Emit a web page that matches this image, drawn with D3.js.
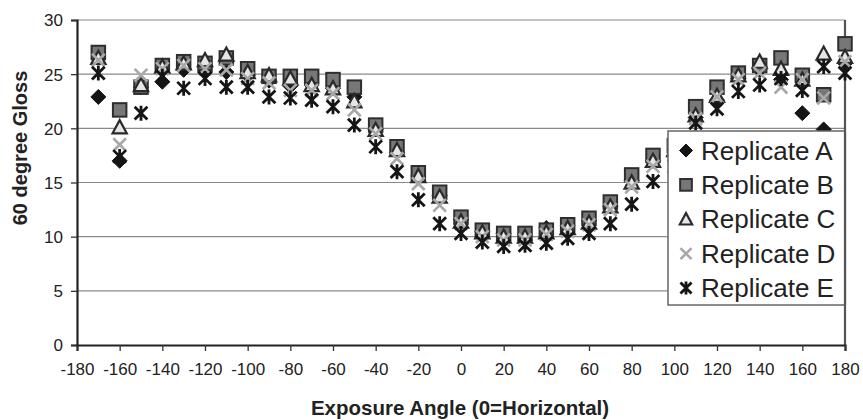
<!DOCTYPE html>
<html>
<head>
<meta charset="utf-8">
<script src="https://cdn.jsdelivr.net/npm/d3@7"></script>
<style>
  html, body { margin: 0; padding: 0; background: #fff; }
  svg { display: block; font-family: "Liberation Sans", Arial, sans-serif; }
</style>
</head>
<body>
<svg id="chart" width="863" height="420"></svg>
<script>
// Exposure angles (degrees) at which gloss was measured
const angles = [-170, -160, -150, -140, -130, -120, -110, -100, -90, -80, -70, -60,
                -50, -40, -30, -20, -10, 0, 10, 20, 30, 40, 50, 60,
                70, 80, 90, 100, 110, 120, 130, 140, 150, 160, 170, 180];

// 60 degree gloss readings, one array per replicate
const replicateA = [22.9, 17.0, 23.8, 24.3, 25.4, 25.2, 25.2, 24.9, 24.4, 23.9, 24.0, 23.7,
                    22.9, 19.9, 17.8, 15.6, 13.8, 11.6, 10.5, 10.3, 10.2, 10.8, 11.0, 11.5,
                    12.8, 15.2, 17.0, 17.5, 21.0, 22.6, 24.6, 25.4, 24.5, 21.4, 19.9, 26.0];
const replicateB = [27.0, 21.7, 23.8, 25.8, 26.15, 26.0, 26.5, 25.5, 24.8, 24.8, 24.8, 24.5,
                    23.8, 20.3, 18.3, 15.9, 14.1, 11.8, 10.6, 10.3, 10.3, 10.6, 11.1, 11.7,
                    13.2, 15.7, 17.5, 18.4, 22.0, 23.8, 25.1, 25.8, 26.5, 24.9, 23.1, 27.8];
const replicateC = [26.5, 20.1, 24.0, 25.7, 26.0, 26.3, 26.8, 25.2, 24.9, 24.6, 24.0, 23.7,
                    22.5, 19.85, 18.0, 15.6, 13.7, 11.4, 10.4, 10.0, 10.0, 10.4, 10.8, 11.3,
                    12.8, 15.0, 17.0, 18.0, 21.2, 23.0, 24.9, 26.15, 25.5, 24.5, 26.9, 26.6];
const replicateD = [26.3, 18.5, 24.9, 25.5, 25.8, 25.5, 25.4, 24.6, 24.2, 23.5, 23.5, 23.2,
                    21.7, 19.5, 17.2, 14.9, 12.9, 11.2, 10.0, 9.7, 9.7, 10.2, 10.5, 11.1,
                    12.5, 14.6, 16.5, 17.8, 20.9, 22.9, 24.5, 25.1, 23.8, 24.5, 22.8, 26.15];
const replicateE = [25.1, 17.4, 21.4, 24.8, 23.7, 24.6, 23.8, 23.8, 22.9, 22.8, 22.6, 22.0,
                    20.3, 18.3, 16.0, 13.4, 11.2, 10.3, 9.5, 9.1, 9.2, 9.4, 9.85, 10.3,
                    11.2, 13.0, 15.1, 16.5, 20.5, 21.8, 23.4, 24.0, 24.6, 23.5, 25.7, 25.1];

const seriesNames = ["Replicate A", "Replicate B", "Replicate C", "Replicate D", "Replicate E"];
const seriesValues = [replicateA, replicateB, replicateC, replicateD, replicateE];

const xTicks = [-180, -160, -140, -120, -100, -80, -60, -40, -20, 0, 20, 40, 60, 80, 100, 120, 140, 160, 180];
const yTicks = [0, 5, 10, 15, 20, 25, 30];

const xTitle = "Exposure Angle (0=Horizontal)";
const yTitle = "60 degree Gloss";

// ---- layout ----
const plot = { left: 77, right: 845, top: 20, bottom: 345 };
const svg = d3.select("#chart");

const x = d3.scaleLinear().domain([-180, 180]).range([plot.left, plot.right]);
const y = d3.scaleLinear().domain([0, 30]).range([plot.bottom, plot.top]);

// plain hyphen for negative tick labels
const plainFormat = d => String(d);

// horizontal gridlines
svg.append("g")
  .selectAll("line")
  .data(yTicks.filter(t => t > 0))
  .join("line")
  .attr("x1", plot.left).attr("x2", plot.right)
  .attr("y1", d => y(d)).attr("y2", d => y(d))
  .attr("stroke", "#8a8a8a")
  .attr("stroke-width", 1.2);

// right-hand border of the plot area
svg.append("line")
  .attr("x1", plot.right).attr("x2", plot.right)
  .attr("y1", plot.top).attr("y2", plot.bottom)
  .attr("stroke", "#555").attr("stroke-width", 2.2);

// axes
const xAxis = svg.append("g")
  .attr("transform", `translate(0,${plot.bottom})`)
  .call(d3.axisBottom(x).tickValues(xTicks).tickSize(6).tickPadding(12).tickFormat(plainFormat));
const yAxis = svg.append("g")
  .attr("transform", `translate(${plot.left},0)`)
  .call(d3.axisLeft(y).tickValues(yTicks).tickSize(6).tickPadding(8).tickFormat(plainFormat));

[xAxis, yAxis].forEach(g => {
  g.select(".domain").attr("stroke", "#222").attr("stroke-width", 2.2);
  g.selectAll(".tick line").attr("stroke", "#333").attr("stroke-width", 1.3);
  g.selectAll(".tick text")
    .attr("fill", "#222")
    .style("font-size", "17px")
    .style("font-family", "'Liberation Sans', Arial, sans-serif");
});
xAxis.selectAll(".tick text").attr("dy", "0.71em");
yAxis.selectAll(".tick text").attr("dy", "0.35em");

// axis titles
svg.append("text")
  .attr("x", (plot.left + plot.right) / 2 - 1)
  .attr("y", 415)
  .attr("text-anchor", "middle")
  .attr("fill", "#222")
  .style("font-size", "20.5px")
  .style("font-weight", "bold")
  .text(xTitle);

svg.append("text")
  .attr("transform", "translate(27,148) rotate(-90)")
  .attr("text-anchor", "middle")
  .attr("fill", "#222")
  .style("font-size", "20px")
  .style("font-weight", "bold")
  .text(yTitle);

// ---- marker shapes, drawn around (0,0) ----
function drawMarker(g, kind, s) {
  const h = s / 2;
  if (kind === 0) {          // filled diamond
    g.append("path")
      .attr("d", `M0,${-h}L${h},0L0,${h}L${-h},0Z`)
      .attr("fill", "#151515").attr("stroke", "#151515").attr("stroke-width", 1);
  } else if (kind === 1) {   // grey square
    const q = h * 0.9;
    g.append("rect")
      .attr("x", -q).attr("y", -q).attr("width", 2 * q).attr("height", 2 * q)
      .attr("fill", "#777").attr("stroke", "#2e2e2e").attr("stroke-width", 2);
  } else if (kind === 2) {   // open triangle
    const t = h * 0.95;
    g.append("path")
      .attr("d", `M0,${-t}L${t},${t * 0.85}L${-t},${t * 0.85}Z`)
      .attr("fill", "#e6e6e6").attr("stroke", "#2a2a2a").attr("stroke-width", 2.2)
      .attr("stroke-linejoin", "miter");
  } else if (kind === 3) {   // light grey cross
    const c = h * 0.85;
    g.append("path")
      .attr("d", `M${-c},${-c}L${c},${c}M${c},${-c}L${-c},${c}`)
      .attr("stroke", "#a8a8a8").attr("stroke-width", 2.6).attr("fill", "none");
  } else {                   // black asterisk
    const c = h * 0.85;
    g.append("path")
      .attr("d", `M${-c},${-c}L${c},${c}M${c},${-c}L${-c},${c}M0,${-h}L0,${h}`)
      .attr("stroke", "#151515").attr("stroke-width", 2.8).attr("fill", "none");
  }
}

// ---- data points, one group per replicate ----
const markerSize = 15;
seriesValues.forEach((vals, si) => {
  const g = svg.append("g").attr("class", "series-" + si);
  angles.forEach((a, i) => {
    const m = g.append("g").attr("transform", `translate(${x(a)},${y(vals[i])})`);
    drawMarker(m, si, markerSize);
  });
});

// ---- legend ----
const legend = { x: 668, y: 131, w: 177, h: 174 };
svg.append("rect")
  .attr("x", legend.x).attr("y", legend.y)
  .attr("width", legend.w).attr("height", legend.h)
  .attr("fill", "#fff").attr("stroke", "#666").attr("stroke-width", 1.5);
// the plot's right border is drawn again over the legend edge
svg.append("line")
  .attr("x1", plot.right).attr("x2", plot.right)
  .attr("y1", legend.y).attr("y2", legend.y + legend.h)
  .attr("stroke", "#555").attr("stroke-width", 2.2);

const rowY = d3.scaleLinear().domain([0, 4]).range([150.5, 288]);
seriesNames.forEach((name, si) => {
  const row = svg.append("g").attr("transform", `translate(0,${rowY(si)})`);
  const m = row.append("g").attr("transform", "translate(686,0)");
  drawMarker(m, si, 13);
  row.append("text")
    .attr("x", 701)
    .attr("y", 0)
    .attr("dy", "0.35em")
    .attr("fill", "#222")
    .style("font-size", "26px")
    .text(name);
});
</script>
</body>
</html>
